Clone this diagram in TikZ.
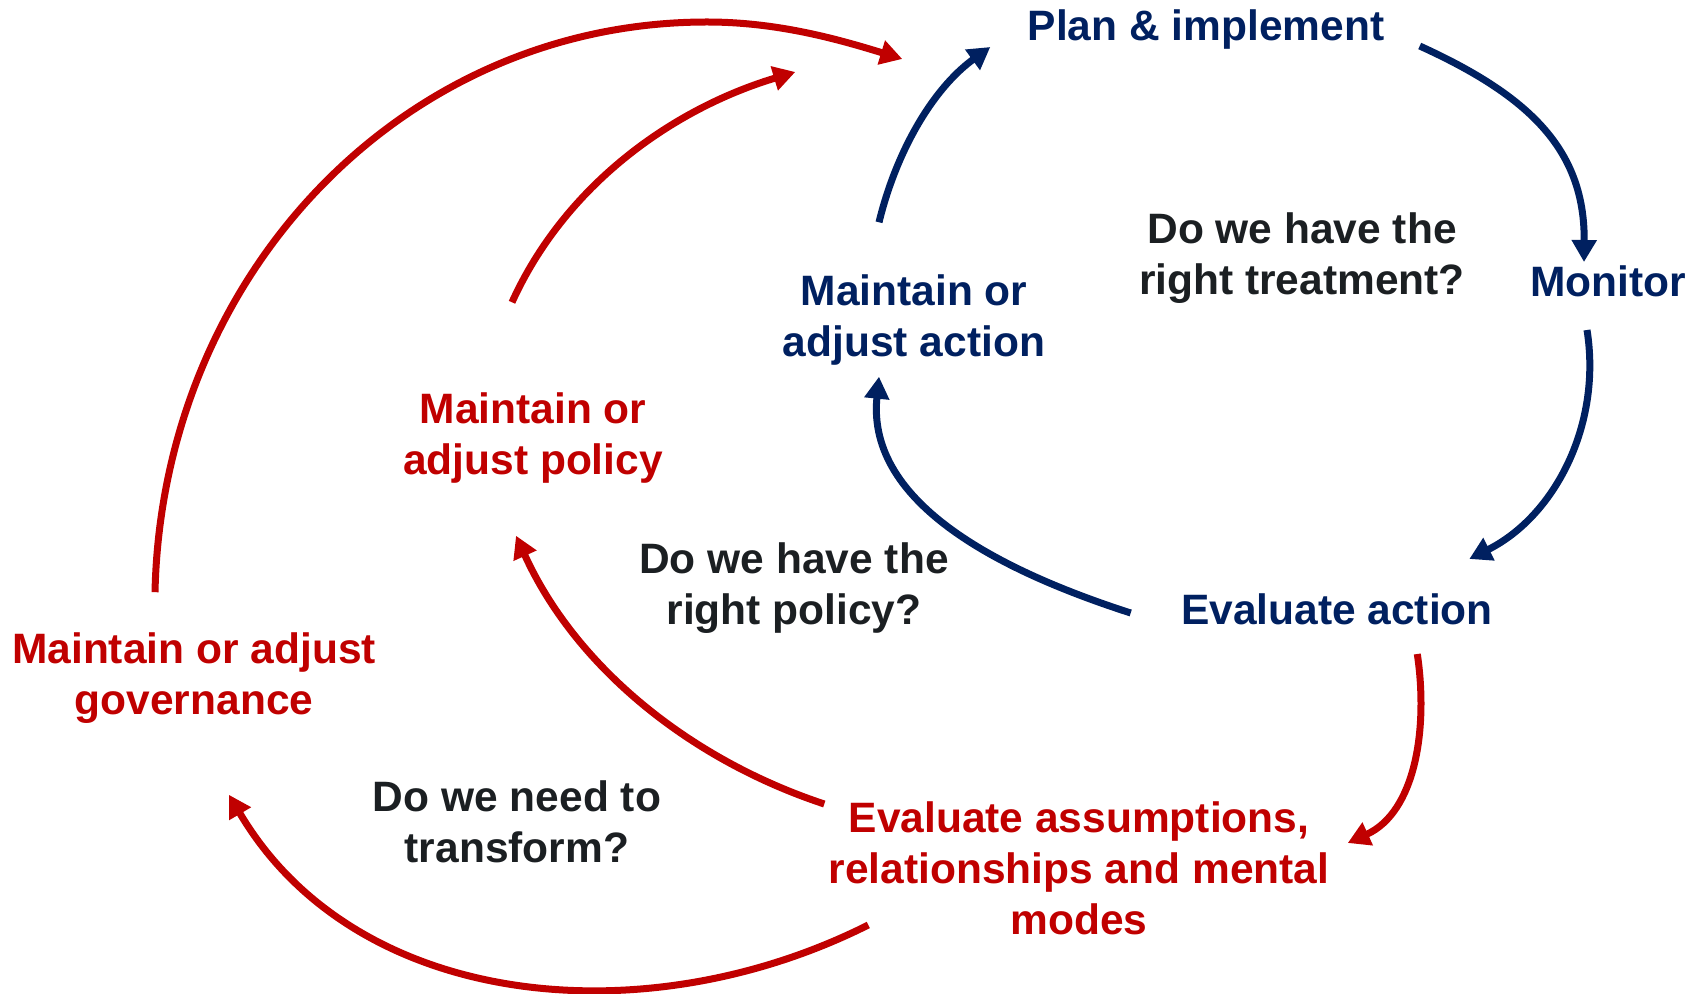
\documentclass[tikz,border=0pt]{standalone}
\usepackage{fontspec}
\setmainfont{Liberation Sans}
\usetikzlibrary{arrows.meta}
\definecolor{navy}{HTML}{002060}
\definecolor{darkred}{HTML}{C00000}
\definecolor{ink}{HTML}{1B1F22}

\begin{document}
\begin{tikzpicture}[x=0.5pt, y=-0.5pt,
	lbl/.style={inner sep=0pt, align=center, font=\fontsize{21.25pt}{25.5pt}\selectfont\bfseries},
	bluelbl/.style={lbl, text=navy},
	redlbl/.style={lbl, text=darkred},
	asklbl/.style={lbl, text=ink},
	bluearr/.style={draw=navy, line width=3.5pt, -{Triangle[length=11pt,width=12pt]}},
	redarr/.style={draw=darkred, line width=3.5pt, -{Triangle[length=11pt,width=12pt]}}]
	\useasboundingbox (0,0) rectangle (1707,994);

	\node[bluelbl] (plan) at (1206,30) {Plan \& implement};
	\node[bluelbl] (monitor) at (1608,281) {Monitor};
	\node[bluelbl] (evalaction) at (1337,609) {Evaluate action};
	\node[bluelbl] (action) at (914,320) {Maintain or\\adjust action};
	\node[asklbl] (treatment) at (1302,258) {Do we have the\\right treatment?};

	\node[redlbl] (policy) at (533,438) {Maintain or\\adjust policy};
	\node[asklbl] (rightpolicy) at (794,588) {Do we have the\\right policy?};
	\node[redlbl] (governance) at (194,678) {Maintain or adjust\\governance};
	\node[asklbl] (transform) at (517,822) {Do we need to\\transform?};
	\node[redlbl] (assumptions) at (1079,868) {Evaluate assumptions,\\relationships and mental\\modes};

	\coordinate (arctop) at (707,22);

	\draw[bluearr] ([shift={(35,16)}]plan.east) .. controls +(110,50) and +(1,-112) .. ([shift={(-24,-3)}]monitor.north);
	\draw[bluearr] ([shift={(-21,33)}]monitor.south) .. controls +(15,94) and +(86,-43) .. ([shift={(-24,-34)}]evalaction.north east);
	\draw[bluearr] ([shift={(-50,4)}]evalaction.west) .. controls +(-124,-40) and +(-13,129) .. ([shift={(-35,11)}]action.south);
	\draw[bluearr] ([shift={(-35,-52)}]action.north) .. controls +(17,-70) and +(-58,42) .. ([shift={(-37,17)}]plan.west);

	\draw[redarr] ([shift={(-76,29)}]evalaction.south east) .. controls +(11,74) and +(68,-31) .. ([shift={(18,42)}]assumptions.north east);
	\draw[redarr] ([shift={(-4,3)}]assumptions.north west) .. controls +(-136,-45) and +(59,130) .. ([shift={(-17,52)}]policy.south);
	\draw[redarr] ([shift={(-21,-90)}]policy.north) .. controls +(53,-117) and +(-123,37) .. ([shift={(-232,42)}]plan.west);
	\draw[redarr] ([shift={(40,-10)}]assumptions.south west) .. controls +(-225,113) and +(126,214) .. ([shift={(35,71)}]governance.south);
	\draw[redarr] ([shift={(-39,-40)}]governance.north) .. controls +(7,-316) and +(-306,0) .. (arctop)
		.. controls +(70,0) and +(-65,-20) .. ([shift={(-125,29)}]plan.west);
\end{tikzpicture}
\end{document}
